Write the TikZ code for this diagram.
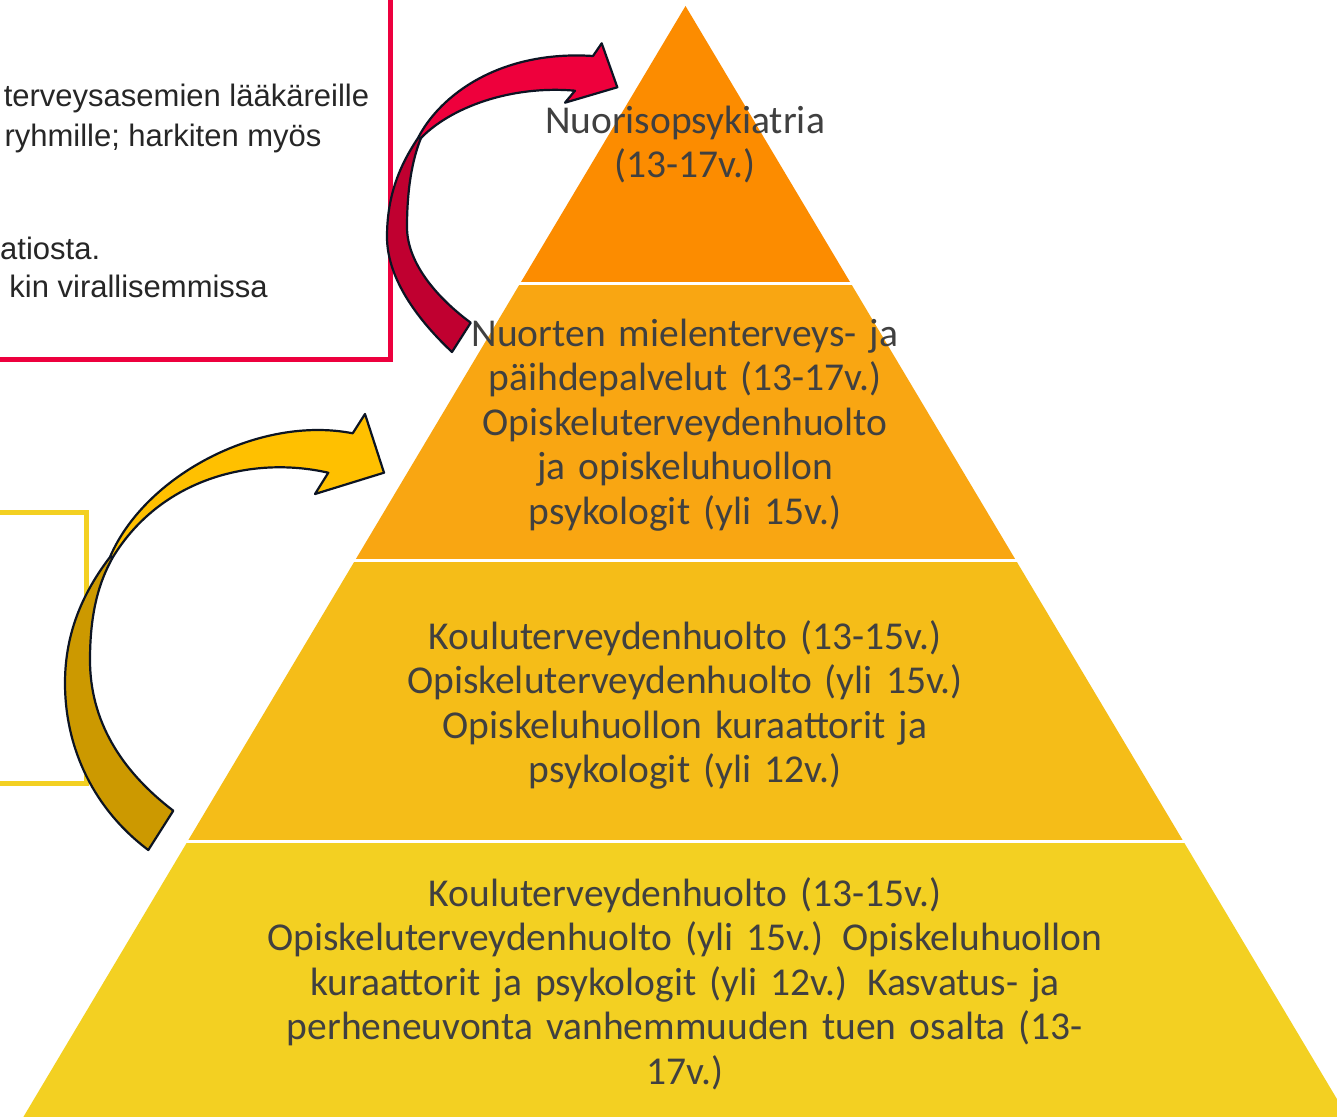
\documentclass[tikz,border=0pt]{standalone}
\usepackage{fontspec}
\setmainfont{Carlito}
\newfontfamily\arialf{Liberation Sans}
\definecolor{tierA}{RGB}{252,140,0}
\definecolor{tierB}{RGB}{249,166,18}
\definecolor{tierC}{RGB}{245,189,24}
\definecolor{tierD}{RGB}{243,208,34}
\definecolor{txtgray}{RGB}{64,64,64}
\definecolor{boxtxt}{RGB}{38,38,38}
\definecolor{redbox}{RGB}{237,0,62}
\definecolor{redA}{RGB}{238,0,60}
\definecolor{redB}{RGB}{192,0,48}
\definecolor{yelA}{RGB}{255,192,0}
\definecolor{yelB}{RGB}{204,153,0}
\definecolor{yelbox}{RGB}{243,208,34}
\definecolor{outl}{RGB}{12,20,35}
\begin{document}
\begin{tikzpicture}[x=1pt,y=-1pt,
  tiertext/.style={font=\fontsize{39.5}{44.5}\selectfont, text=txtgray, align=center, text width=900pt, inner sep=0pt, anchor=base},
  boxtext/.style={font=\arialf\fontsize{31}{39}\selectfont, text=boxtxt, inner sep=0pt, anchor=base east},
  sep/.style={draw=white, line width=3pt},
  blockarrow/.style={draw=outl, line width=2.2pt, line join=round}]
\useasboundingbox (0,0) rectangle (1337,1116);
\begin{scope}
\clip (0,0) rectangle (1337,1116);
\fill[white] (0,0) rectangle (1337,1116);
% left boxes
\draw[redbox, line width=5pt] (-20,-20) rectangle (390.8,359);
\draw[yelbox, line width=5pt] (-20,512) rectangle (86.5,783.5);
\node[boxtext] (b1) at (369.3,106) {terveysasemien lääkäreille};
\node[boxtext] (b2) at (321.7,146.7) {ryhmille; harkiten myös};
\node[boxtext, anchor=base west] (b3) at (0,259.3) {atiosta.};
\node[boxtext] (b4) at (268,297.7) {kin virallisemmissa};
% pyramid
\fill[tierA] (685.5,6) -- (850.9,283.5) -- (520.1,283.5) -- cycle;
\fill[tierB] (520.1,283.5) -- (850.9,283.5) -- (1016.0,560.5) -- (355.0,560.5) -- cycle;
\fill[tierC] (355.0,560.5) -- (1016.0,560.5) -- (1183.2,841) -- (187.8,841) -- cycle;
\fill[tierD] (187.8,841) -- (1183.2,841) -- (1355.4,1130) -- (15.6,1130) -- cycle;
\draw[sep] (510,283.5) -- (860,283.5);
\draw[sep] (345,560.5) -- (1026,560.5);
\draw[sep] (178,841) -- (1193,841);
% red curved arrow
\path[blockarrow, fill=redB] (421,138) .. controls (412,160) and (407,190) .. (407,227)
  .. controls (407,265) and (440,300) .. (470.7,322.7) -- (452,352)
  .. controls (420,322) and (387,280) .. (387,237)
  .. controls (387,195) and (400,165) .. (418,138) -- cycle;
\path[blockarrow, fill=redA] (418,138) .. controls (440,95) and (500,50) .. (593,56)
  -- (601.7,43.3) -- (617.3,87.3) -- (565,102.7) -- (575,90.7)
  .. controls (510,85) and (450,108) .. (421,138) -- cycle;
% yellow curved arrow
\path[blockarrow, fill=yelB] (113,557) .. controls (100,580) and (90,610) .. (90,660)
  .. controls (90,720) and (120,770) .. (173.3,810.7) -- (148.3,850)
  .. controls (95,810) and (65,750) .. (65,683)
  .. controls (65,630) and (85,590) .. (110,557) -- cycle;
\path[blockarrow, fill=yelA] (110,557) .. controls (145,475) and (260,415) .. (352.7,433.3)
  -- (365,414) -- (384,472.7) -- (315,494) -- (328.3,472.7)
  .. controls (250,455) and (160,480) .. (113,557) -- cycle;
% pyramid texts
\node[tiertext] (t1) at (685,133) {Nuorisopsykiatria\\(13-17v.)};
\node[tiertext] (t2) at (685,346) {Nuorten mielenterveys- ja\\päihdepalvelut (13-17v.)\\Opiskeluterveydenhuolto\\ja opiskeluhuollon\\psykologit (yli 15v.)};
\node[tiertext] (t3) at (685,649) {Kouluterveydenhuolto (13-15v.)\\Opiskeluterveydenhuolto (yli 15v.)\\Opiskeluhuollon kuraattorit ja\\psykologit (yli 12v.)};
\node[tiertext] (t4) at (685,906) {Kouluterveydenhuolto (13-15v.)\\Opiskeluterveydenhuolto (yli 15v.) Opiskeluhuollon\\kuraattorit ja psykologit (yli 12v.) Kasvatus- ja\\perheneuvonta vanhemmuuden tuen osalta (13-\\17v.)};
\end{scope}
\end{tikzpicture}
\end{document}
